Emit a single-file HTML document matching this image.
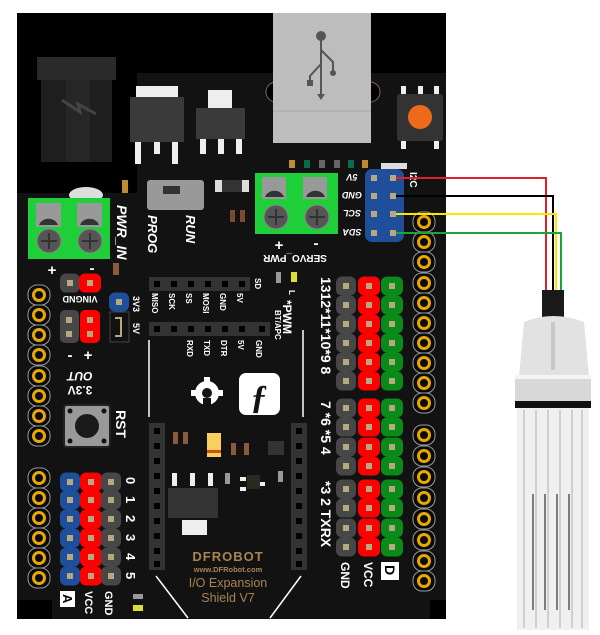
<!DOCTYPE html>
<html><head><meta charset="utf-8"><style>html,body{margin:0;padding:0;background:#fff}svg{display:block}</style></head><body>
<svg width="600" height="635" viewBox="0 0 600 635" xmlns="http://www.w3.org/2000/svg" font-family="Liberation Sans, sans-serif" font-weight="bold">
<defs>
<g id="ring"><rect x="-11" y="-10" width="22" height="20" rx="9" fill="#0a0a0a" stroke="#999" stroke-width="1"/><circle r="5.5" fill="none" stroke="#e8a800" stroke-width="3"/></g>
<g id="pg"><rect x="-10" y="-9.5" width="20" height="19" rx="6" fill="#474747"/><rect x="-3" y="-3" width="6" height="6" fill="#b8a880"/></g>
<g id="pr"><rect x="-11" y="-9.5" width="22" height="19" rx="6" fill="#f00"/><rect x="-3" y="-3" width="6" height="6" fill="#b8a880"/></g>
<g id="pgr"><rect x="-11" y="-9.5" width="22" height="19" rx="6" fill="#0a8a18"/><rect x="-3" y="-3" width="6" height="6" fill="#b8a880"/></g>
<g id="pb"><rect x="-10" y="-9.5" width="20" height="19" rx="6" fill="#1f4f9a"/><rect x="-3" y="-3" width="6" height="6" fill="#b8a880"/></g>
<g id="sq"><rect x="-7" y="-7" width="14" height="14" fill="#333"/><rect x="-3" y="-3" width="6" height="6" fill="#000"/></g>
</defs>
<!-- board -->
<rect x="17" y="13" width="429" height="606" fill="#121212"/>
<rect x="17" y="13" width="429" height="60" fill="#000"/>
<rect x="17" y="73" width="120" height="120" fill="#000"/>
<rect x="17" y="600" width="35" height="19" fill="#000"/>
<rect x="430" y="600" width="16" height="19" fill="#000"/>
<!-- power jack -->
<rect x="37" y="57" width="79" height="23" fill="#2a2a2a"/>
<rect x="41" y="80" width="71" height="82" fill="#1e1e1e"/>
<rect x="66" y="80" width="24" height="82" fill="#262626"/>
<path d="M62 100 L80 112 L78 104 L96 114" stroke="#444" stroke-width="3" fill="none"/>
<!-- regulators -->
<rect x="136" y="86" width="42" height="11" fill="#eee"/>
<rect x="130" y="97" width="54" height="45" fill="#3a3a3a"/>
<rect x="135" y="142" width="6" height="22" fill="#eee"/><rect x="154" y="142" width="6" height="12" fill="#eee"/><rect x="172" y="142" width="6" height="22" fill="#eee"/>
<rect x="208" y="90" width="24" height="18" fill="#eee"/>
<rect x="196" y="108" width="49" height="31" fill="#3a3a3a"/>
<rect x="200" y="139" width="6" height="15" fill="#eee"/><rect x="218" y="139" width="6" height="15" fill="#eee"/><rect x="236" y="139" width="6" height="15" fill="#eee"/>
<!-- USB -->
<circle cx="276" cy="92" r="10" fill="#000" stroke="#7a6a50" stroke-width="1"/>
<circle cx="370" cy="92" r="10" fill="#000" stroke="#7a6a50" stroke-width="1"/>
<rect x="273" y="13" width="98" height="130" fill="#bdbdbd"/>
<line x1="273" y1="111" x2="371" y2="111" stroke="#a8a8a8"/>
<g stroke="#555" stroke-width="2" fill="none"><line x1="321" y1="36" x2="321" y2="97"/><path d="M321 64 L310 76 L310 83"/><path d="M321 50 L333 62 L333 73"/></g>
<circle cx="321" cy="36" r="5" fill="#555"/><circle cx="333" cy="73" r="3" fill="#555"/><rect x="307" y="80" width="6" height="6" fill="#555"/><path d="M317 94 L325 94 L321 100Z" fill="#555"/>
<!-- reset orange -->
<rect x="401" y="86" width="5" height="8" fill="#eee"/><rect x="418" y="86" width="5" height="8" fill="#eee"/><rect x="434" y="86" width="5" height="8" fill="#eee"/>
<rect x="397" y="94" width="46" height="47" rx="3" fill="#333"/>
<circle cx="420" cy="117" r="12" fill="#ec6a1a"/>
<rect x="401" y="141" width="5" height="8" fill="#eee"/><rect x="434" y="141" width="5" height="8" fill="#eee"/>
<!-- small leds row -->
<rect x="289" y="160" width="6" height="8" fill="#c08a30"/><rect x="304" y="160" width="6" height="8" fill="#0a6a4a"/><rect x="319" y="160" width="6" height="8" fill="#666"/><rect x="334" y="160" width="6" height="8" fill="#666"/><rect x="348" y="160" width="6" height="8" fill="#0a6a4a"/><rect x="362" y="160" width="6" height="8" fill="#c08a30"/>
<rect x="381" y="163" width="26" height="6" fill="#ddd"/>
<!-- left terminal -->
<ellipse cx="86" cy="195" rx="17" ry="8" fill="#ddd"/>
<rect x="122" y="180" width="6" height="13" fill="#c08a30"/>
<rect x="28" y="198" width="82" height="61" fill="#1ecf3a"/>
<rect x="36" y="203" width="25" height="24" fill="#999"/><path d="M39 225 A10 9 0 0 1 58 225Z" fill="#333"/>
<rect x="77" y="203" width="25" height="24" fill="#999"/><path d="M80 225 A10 9 0 0 1 99 225Z" fill="#333"/>
<circle cx="49" cy="241" r="12" fill="#555" stroke="#888"/><path d="M49 233v16M41 241h16" stroke="#333" stroke-width="2"/>
<circle cx="90" cy="241" r="12" fill="#555" stroke="#888"/><path d="M90 233v16M82 241h16" stroke="#333" stroke-width="2"/>
<text x="52" y="275" fill="#fff" font-size="15" text-anchor="middle">+</text><text x="92" y="273" fill="#fff" font-size="15" text-anchor="middle">-</text>
<text transform="translate(117,205) rotate(90)" fill="#fff" font-size="14" font-style="italic">PWR_IN</text>
<rect x="113" y="263" width="6" height="12" fill="#8a5a3a"/>
<!-- switch -->
<rect x="147" y="180" width="57" height="30" rx="3" fill="#999"/><rect x="163" y="186" width="17" height="8" fill="#333"/>
<text transform="translate(148,215) rotate(90)" fill="#fff" font-size="13" font-style="italic">PROG</text>
<text transform="translate(186,215) rotate(90)" fill="#fff" font-size="13" font-style="italic">RUN</text>
<rect x="215" y="180" width="34" height="12" fill="#ddd"/><rect x="222" y="180" width="20" height="12" fill="#333"/>
<rect x="230" y="210" width="5" height="12" fill="#7a4a30"/><rect x="240" y="210" width="5" height="12" fill="#7a4a30"/>
<!-- right terminal -->
<rect x="255" y="173" width="83" height="61" fill="#1ecf3a"/>
<rect x="262" y="177" width="24" height="22" fill="#999"/><path d="M265 197 A10 9 0 0 1 284 197Z" fill="#333"/>
<rect x="303" y="177" width="24" height="22" fill="#999"/><path d="M306 197 A10 9 0 0 1 325 197Z" fill="#333"/>
<circle cx="276" cy="217" r="12" fill="#555" stroke="#888"/><path d="M276 209v16M268 217h16" stroke="#333" stroke-width="2"/>
<circle cx="317" cy="217" r="12" fill="#555" stroke="#888"/><path d="M317 209v16M309 217h16" stroke="#333" stroke-width="2"/>
<text x="279" y="250" fill="#fff" font-size="15" text-anchor="middle">+</text><text x="316" y="248" fill="#fff" font-size="15" text-anchor="middle">-</text>
<text transform="translate(295,255) rotate(180)" fill="#fff" font-size="10" text-anchor="middle">SERVO_PWR</text>
<!-- I2C header -->
<rect x="365" y="169" width="39" height="73" rx="7" fill="#1f4f9a"/>
<g fill="#b8a880"><rect x="371" y="175" width="6" height="6"/><rect x="390" y="175" width="6" height="6"/><rect x="371" y="193" width="6" height="6"/><rect x="390" y="193" width="6" height="6"/><rect x="371" y="211" width="6" height="6"/><rect x="390" y="211" width="6" height="6"/><rect x="371" y="230" width="6" height="6"/><rect x="390" y="230" width="6" height="6"/></g>
<g fill="#fff" font-size="9" font-style="italic" text-anchor="middle">
<text transform="translate(352,174) rotate(180)">5V</text><text transform="translate(352,192) rotate(180)">GND</text><text transform="translate(352,210) rotate(180)">SCL</text><text transform="translate(352,229) rotate(180)">SDA</text></g>
<text transform="translate(410,172) rotate(90)" fill="#fff" font-size="10">I2C</text>
<!-- ring headers -->
<use href="#ring" x="39" y="295"/><use href="#ring" x="39" y="315"/><use href="#ring" x="39" y="335"/><use href="#ring" x="39" y="355"/><use href="#ring" x="39" y="376"/><use href="#ring" x="39" y="396"/><use href="#ring" x="39" y="416"/><use href="#ring" x="39" y="436"/>
<use href="#ring" x="39" y="478"/><use href="#ring" x="39" y="498"/><use href="#ring" x="39" y="518"/><use href="#ring" x="39" y="538"/><use href="#ring" x="39" y="558"/><use href="#ring" x="39" y="578"/>
<use href="#ring" x="424" y="222"/><use href="#ring" x="424" y="242"/><use href="#ring" x="424" y="262"/><use href="#ring" x="424" y="283"/><use href="#ring" x="424" y="303"/><use href="#ring" x="424" y="323"/><use href="#ring" x="424" y="343"/><use href="#ring" x="424" y="363"/><use href="#ring" x="424" y="383"/><use href="#ring" x="424" y="403"/>
<use href="#ring" x="424" y="435"/><use href="#ring" x="424" y="456"/><use href="#ring" x="424" y="477"/><use href="#ring" x="424" y="498"/><use href="#ring" x="424" y="519"/><use href="#ring" x="424" y="540"/><use href="#ring" x="424" y="561"/><use href="#ring" x="424" y="581"/>
<!-- VIN GND area -->
<use href="#pg" x="70" y="283"/><use href="#pr" x="90" y="283"/>
<text transform="translate(80,296) rotate(180)" fill="#fff" font-size="9" text-anchor="middle">VINGND</text>
<rect x="60" y="310" width="19" height="33" rx="5" fill="#474747"/><rect x="80" y="310" width="20" height="33" rx="5" fill="#f00"/>
<g fill="#b8a880"><rect x="66" y="317" width="6" height="6"/><rect x="66" y="331" width="6" height="6"/><rect x="87" y="317" width="6" height="6"/><rect x="87" y="331" width="6" height="6"/></g>
<text x="70" y="360" fill="#fff" font-size="15" text-anchor="middle">-</text><text x="88" y="360" fill="#fff" font-size="15" text-anchor="middle">+</text>
<text transform="translate(80,372) rotate(180)" fill="#fff" font-size="12" font-style="italic" text-anchor="middle">OUT</text>
<text transform="translate(80,386) rotate(180)" fill="#fff" font-size="12" text-anchor="middle">3.3V</text>
<use href="#pb" x="119" y="302"/>
<rect x="110" y="312" width="19" height="30" fill="#111" stroke="#444"/><path d="M115 318h6v18h-6" stroke="#b8a880" fill="none" stroke-width="2"/>
<text transform="translate(133,296) rotate(90)" fill="#fff" font-size="9">3V3</text><text transform="translate(133,323) rotate(90)" fill="#fff" font-size="9">5V</text>
<!-- RST -->
<rect x="64" y="405" width="46" height="42" rx="3" fill="#999" stroke="#222" stroke-width="2"/>
<circle cx="87" cy="426" r="12" fill="#1a1a1a"/>
<g fill="#111"><circle cx="70" cy="411" r="2.5"/><circle cx="104" cy="411" r="2.5"/><circle cx="70" cy="441" r="2.5"/><circle cx="104" cy="441" r="2.5"/></g>
<text transform="translate(116,410) rotate(90)" fill="#fff" font-size="14">RST</text>
<!-- A header -->
<use href="#pb" x="70" y="482"/><use href="#pb" x="70" y="500"/><use href="#pb" x="70" y="519"/><use href="#pb" x="70" y="538"/><use href="#pb" x="70" y="557"/><use href="#pb" x="70" y="576"/>
<use href="#pr" x="91" y="482"/><use href="#pr" x="91" y="500"/><use href="#pr" x="91" y="519"/><use href="#pr" x="91" y="538"/><use href="#pr" x="91" y="557"/><use href="#pr" x="91" y="576"/>
<use href="#pg" x="111" y="482"/><use href="#pg" x="111" y="500"/><use href="#pg" x="111" y="519"/><use href="#pg" x="111" y="538"/><use href="#pg" x="111" y="557"/><use href="#pg" x="111" y="576"/>
<g fill="#fff" font-size="13"><text transform="translate(126,477) rotate(90)">0</text><text transform="translate(126,496) rotate(90)">1</text><text transform="translate(126,515) rotate(90)">2</text><text transform="translate(126,534) rotate(90)">3</text><text transform="translate(126,553) rotate(90)">4</text><text transform="translate(126,572) rotate(90)">5</text></g>
<rect x="60" y="591" width="15" height="16" fill="#fff"/><text transform="translate(63,594) rotate(90)" fill="#000" font-size="13">A</text>
<text transform="translate(85,591) rotate(90)" fill="#fff" font-size="11">VCC</text><text transform="translate(105,591) rotate(90)" fill="#fff" font-size="11">GND</text>
<rect x="133" y="594" width="10" height="5" fill="#999"/><rect x="133" y="605" width="10" height="6" fill="#dd3"/>
<!-- SPI / BT rows -->
<rect x="149" y="277" width="101" height="14" fill="#333"/>
<use href="#sq" x="157" y="284"/><use href="#sq" x="174" y="284"/><use href="#sq" x="191" y="284"/><use href="#sq" x="208" y="284"/><use href="#sq" x="225" y="284"/><use href="#sq" x="242" y="284"/>
<g fill="#fff" font-size="8"><text transform="translate(152,293) rotate(90)">MISO</text><text transform="translate(169,293) rotate(90)">SCK</text><text transform="translate(186,293) rotate(90)">SS</text><text transform="translate(203,293) rotate(90)">MOSI</text><text transform="translate(220,293) rotate(90)">GND</text><text transform="translate(237,293) rotate(90)">5V</text><text transform="translate(255,278) rotate(90)">SD</text></g>
<rect x="149" y="322" width="121" height="14" fill="#333"/>
<use href="#sq" x="157" y="329"/><use href="#sq" x="174" y="329"/><use href="#sq" x="191" y="329"/><use href="#sq" x="208" y="329"/><use href="#sq" x="225" y="329"/><use href="#sq" x="242" y="329"/><use href="#sq" x="262" y="329"/>
<g fill="#fff" font-size="8"><text transform="translate(187,340) rotate(90)">RXD</text><text transform="translate(204,340) rotate(90)">TXD</text><text transform="translate(221,340) rotate(90)">DTR</text><text transform="translate(238,340) rotate(90)">5V</text><text transform="translate(256,340) rotate(90)">GND</text><text transform="translate(275,310) rotate(90)">BT/APC</text></g>
<line x1="149" y1="340" x2="149" y2="417" stroke="#fff" stroke-width="1.5"/>
<line x1="303" y1="330" x2="303" y2="417" stroke="#fff" stroke-width="1.5"/>
<text transform="translate(283,300) rotate(90)" fill="#fff" font-size="12">*PWM</text>
<rect x="276" y="272" width="5" height="11" fill="#999"/><rect x="291" y="272" width="6" height="10" fill="#dd3"/><text transform="translate(289,290) rotate(90)" fill="#fff" font-size="8">L</text>
<!-- logos -->
<circle cx="207" cy="393" r="12" fill="#fff"/><circle cx="207" cy="393" r="5" fill="#121212"/><rect x="203" y="398" width="8" height="8" fill="#121212"/>
<g fill="#fff"><rect x="204" y="377" width="6" height="6"/><rect x="191" y="390" width="6" height="6"/><rect x="217" y="390" width="6" height="6"/></g>
<rect x="239" y="373" width="41" height="42" rx="7" fill="#fff"/>
<text x="259" y="408" fill="#121212" font-size="34" font-style="italic" font-family="Liberation Serif, serif" text-anchor="middle">ƒ</text>
<!-- xbee -->
<rect x="149" y="423" width="16" height="147" fill="#333"/><rect x="291" y="423" width="16" height="147" fill="#333"/>
<g fill="#000"><rect x="154" y="428" width="6" height="6"/><rect x="154" y="443" width="6" height="6"/><rect x="154" y="458" width="6" height="6"/><rect x="154" y="473" width="6" height="6"/><rect x="154" y="488" width="6" height="6"/><rect x="154" y="503" width="6" height="6"/><rect x="154" y="518" width="6" height="6"/><rect x="154" y="533" width="6" height="6"/><rect x="154" y="548" width="6" height="6"/><rect x="154" y="561" width="6" height="6"/>
<rect x="296" y="428" width="6" height="6"/><rect x="296" y="443" width="6" height="6"/><rect x="296" y="458" width="6" height="6"/><rect x="296" y="473" width="6" height="6"/><rect x="296" y="488" width="6" height="6"/><rect x="296" y="503" width="6" height="6"/><rect x="296" y="518" width="6" height="6"/><rect x="296" y="533" width="6" height="6"/><rect x="296" y="548" width="6" height="6"/><rect x="296" y="561" width="6" height="6"/></g>
<rect x="173" y="432" width="5" height="12" fill="#8a5a3a"/><rect x="183" y="432" width="5" height="12" fill="#8a5a3a"/>
<rect x="207" y="433" width="14" height="24" fill="#f8d060"/><rect x="207" y="450" width="14" height="3" fill="#d05010"/>
<rect x="231" y="443" width="5" height="12" fill="#8a5a3a"/><rect x="244" y="443" width="5" height="12" fill="#8a5a3a"/>
<rect x="268" y="441" width="16" height="14" fill="#333"/>
<rect x="172" y="473" width="5" height="13" fill="#eee"/><rect x="190" y="473" width="5" height="13" fill="#eee"/><rect x="208" y="473" width="5" height="13" fill="#eee"/>
<rect x="168" y="488" width="50" height="30" fill="#333"/><rect x="182" y="520" width="25" height="15" fill="#eee"/>
<rect x="225" y="473" width="5" height="11" fill="#999"/><rect x="247" y="475" width="13" height="14" fill="#2a2a22"/><rect x="240" y="477" width="6" height="4" fill="#eee"/><rect x="240" y="487" width="6" height="4" fill="#eee"/><rect x="260" y="482" width="5" height="4" fill="#eee"/>
<rect x="278" y="471" width="5" height="11" fill="#999"/>
<line x1="156" y1="576" x2="188" y2="618" stroke="#fff" stroke-width="1.5"/>
<line x1="301" y1="576" x2="270" y2="618" stroke="#fff" stroke-width="1.5"/>
<g fill="#a88452" text-anchor="middle"><text x="228" y="561" font-size="13" letter-spacing="1">DFROBOT</text><text x="228" y="572" font-size="7.5">www.DFRobot.com</text><text x="228" y="587" font-size="12.5" font-weight="normal">I/O Expansion</text><text x="228" y="602" font-size="12.5" font-weight="normal">Shield V7</text></g>
<!-- digital header -->
<g>
<use href="#pg" x="346" y="286"/><use href="#pg" x="346" y="305"/><use href="#pg" x="346" y="324"/><use href="#pg" x="346" y="343"/><use href="#pg" x="346" y="362"/><use href="#pg" x="346" y="381"/>
<use href="#pg" x="346" y="408"/><use href="#pg" x="346" y="427"/><use href="#pg" x="346" y="447"/><use href="#pg" x="346" y="466"/>
<use href="#pg" x="346" y="489"/><use href="#pg" x="346" y="508"/><use href="#pg" x="346" y="528"/><use href="#pg" x="346" y="547"/>
<use href="#pr" x="369" y="286"/><use href="#pr" x="369" y="305"/><use href="#pr" x="369" y="324"/><use href="#pr" x="369" y="343"/><use href="#pr" x="369" y="362"/><use href="#pr" x="369" y="381"/>
<use href="#pr" x="369" y="408"/><use href="#pr" x="369" y="427"/><use href="#pr" x="369" y="447"/><use href="#pr" x="369" y="466"/>
<use href="#pr" x="369" y="489"/><use href="#pr" x="369" y="508"/><use href="#pr" x="369" y="528"/><use href="#pr" x="369" y="547"/>
<use href="#pgr" x="392" y="286"/><use href="#pgr" x="392" y="305"/><use href="#pgr" x="392" y="324"/><use href="#pgr" x="392" y="343"/><use href="#pgr" x="392" y="362"/><use href="#pgr" x="392" y="381"/>
<use href="#pgr" x="392" y="408"/><use href="#pgr" x="392" y="427"/><use href="#pgr" x="392" y="447"/><use href="#pgr" x="392" y="466"/>
<use href="#pgr" x="392" y="489"/><use href="#pgr" x="392" y="508"/><use href="#pgr" x="392" y="528"/><use href="#pgr" x="392" y="547"/>
</g>
<g fill="#fff" font-size="14"><text transform="translate(321,277) rotate(90)">1312*11*10*9 8</text><text transform="translate(321,401) rotate(90)">7 *6 *5 4</text><text transform="translate(321,481) rotate(90)">*3 2 TXRX</text></g>
<text transform="translate(341,562) rotate(90)" fill="#fff" font-size="12">GND</text><text transform="translate(364,562) rotate(90)" fill="#fff" font-size="12">VCC</text>
<rect x="381" y="562" width="18" height="18" fill="#fff"/><text transform="translate(385,565) rotate(90)" fill="#000" font-size="14">D</text>
<!-- wires -->
<g fill="none" stroke-width="2"><path d="M396 178H546V292" stroke="#e41e26"/><path d="M396 196H553V292" stroke="#000"/><path d="M396 214H556V292" stroke="#ffe600"/><path d="M396 233H561V292" stroke="#1aa63a"/></g>
<!-- sensor -->
<rect x="542" y="290" width="22" height="33" fill="#1a1a1a"/>
<path d="M524 322 Q553 310 584 322 L589 377 L519 377Z" fill="#e2e2e2"/>
<path d="M553 322 L553 370" stroke="#c8c8c8" stroke-width="4"/>
<rect x="515" y="375" width="76" height="27" fill="#d8d8d8"/><rect x="515" y="375" width="76" height="4" fill="#f4f4f4"/>
<rect x="515" y="401" width="76" height="7" fill="#111"/>
<rect x="517" y="408" width="72" height="222" fill="#f0f0f0"/>
<g stroke="#c4c4c4" stroke-width="1.5"><line x1="524" y1="410" x2="524" y2="628"/><line x1="536" y1="410" x2="536" y2="628"/><line x1="548" y1="410" x2="548" y2="628"/><line x1="560" y1="410" x2="560" y2="628"/><line x1="572" y1="410" x2="572" y2="628"/><line x1="582" y1="410" x2="582" y2="628"/></g>
<g stroke="#555" stroke-width="1.5"><line x1="533" y1="494" x2="533" y2="610"/><line x1="545" y1="494" x2="545" y2="610"/><line x1="557" y1="494" x2="557" y2="610"/><line x1="569" y1="494" x2="569" y2="610"/></g>
</svg>
</body></html>
